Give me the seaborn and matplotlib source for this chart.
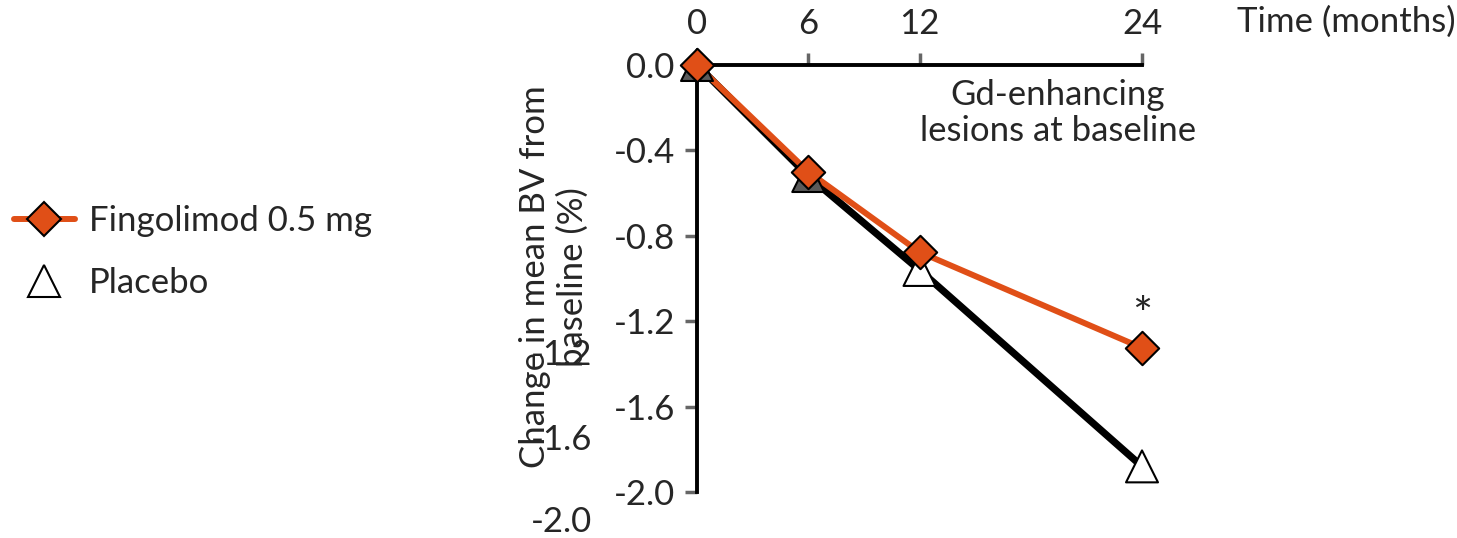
import matplotlib
matplotlib.use("Agg")
import matplotlib.pyplot as plt
import seaborn as sns
import pandas as pd
from matplotlib.lines import Line2D

# ---- data ----
months = [0, 6, 12, 24]
fingolimod = [0.0, -0.50, -0.876, -1.325]
placebo = [0.0, -0.52, -0.96, -1.88]
x_ticks = [0, 6, 12, 24]
y_ticks = [0.0, -0.4, -0.8, -1.2, -1.6, -2.0]
y_tick_labels = ["0.0", "-0.4", "-0.8", "-1.2", "-1.6", "-2.0"]
stray_labels = ["-1.2", "-1.6", "-2.0"]
series_names = ["Fingolimod 0.5 mg", "Placebo"]

sns.set_style("white")
plt.rcParams['font.family'] = ['Lato', 'DejaVu Sans']

ORANGE = "#E04F17"
FS = 25

fig = plt.figure(figsize=(14.57, 5.38), dpi=100)
W, H = 1457, 538
ax = fig.add_axes([697 / W, 1 - 492 / H, (1142 - 697) / W, (492 - 65) / H])

df = pd.DataFrame({"month": months, "fingolimod": fingolimod, "placebo": placebo})

sns.lineplot(data=df, x="month", y="placebo", ax=ax, color="black", lw=5.2,
             zorder=3, clip_on=False)
sns.lineplot(data=df, x="month", y="fingolimod", ax=ax, color=ORANGE, lw=4.3,
             zorder=4, clip_on=False)

tri_faces = ["#5a5a5a", "#5a5a5a", "white", "white"]
ax.scatter(df["month"], df["placebo"], marker="^", s=23 ** 2, facecolors=tri_faces,
           edgecolors="black", linewidths=1.5, zorder=5, clip_on=False)
ax.scatter(df["month"], df["fingolimod"], marker="D", s=17 ** 2, facecolors=ORANGE,
           edgecolors="black", linewidths=1.5, zorder=6, clip_on=False)

ax.set_xlim(0, 24)
ax.set_ylim(-2.0, 0.0)
ax.set_xticks(x_ticks)
ax.set_xticklabels([str(t) for t in x_ticks])
ax.set_yticks(y_ticks)
ax.set_yticklabels(y_tick_labels)
ax.xaxis.tick_top()
ax.tick_params(axis="x", direction="out", length=9, width=2.5, color="#666666",
               labelsize=FS, pad=9, top=True, bottom=False)
ax.tick_params(axis="y", direction="out", length=9, width=2.5, color="#666666",
               labelsize=FS, pad=7, left=True)
for s in ["right", "bottom"]:
    ax.spines[s].set_visible(False)
for s in ["top", "left"]:
    ax.spines[s].set_linewidth(2.8)
    ax.spines[s].set_color("black")
    ax.spines[s].set_zorder(2)
ax.set_xlabel("")
ax.set_ylabel("")

# y label (two lines, rotated)
fig.text(554 / W, 1 - 277 / H, "Change in mean BV from\nbaseline (%)", rotation=90,
         ha="center", va="center", fontsize=FS, multialignment="center",
         linespacing=1.22)

# stray duplicated tick labels
for lab, ypix in zip(stray_labels, [355, 440, 522]):
    fig.text(592 / W, 1 - ypix / H, lab, ha="right", va="center", fontsize=FS)

# axis title
fig.text(1237 / W, 1 - 22 / H, "Time (months)", ha="left", va="center", fontsize=FS)

# annotation
fig.text(1058 / W, 1 - 113 / H, "Gd-enhancing\nlesions at baseline", ha="center",
         va="center", fontsize=FS, multialignment="center", linespacing=1.15)

# significance
ax.annotate("*", xy=(months[-1], fingolimod[-1]), xytext=(0, 22),
            textcoords="offset points", ha="center", va="center", fontsize=34)

# legend
handles = [
    Line2D([], [], color=ORANGE, lw=4.3, marker="D", markersize=17,
           markerfacecolor=ORANGE, markeredgecolor="black", markeredgewidth=1.5),
    Line2D([], [], color="none", marker="^", markersize=23,
           markerfacecolor="white", markeredgecolor="black", markeredgewidth=1.5),
]
fig.legend(handles, series_names, loc="center left",
           bbox_to_anchor=(0.0, 1 - 252 / H), frameon=False, fontsize=FS,
           handlelength=1.75, handletextpad=0.4, labelspacing=0.85, borderaxespad=0.0)

fig.savefig("out.png", dpi=100)
